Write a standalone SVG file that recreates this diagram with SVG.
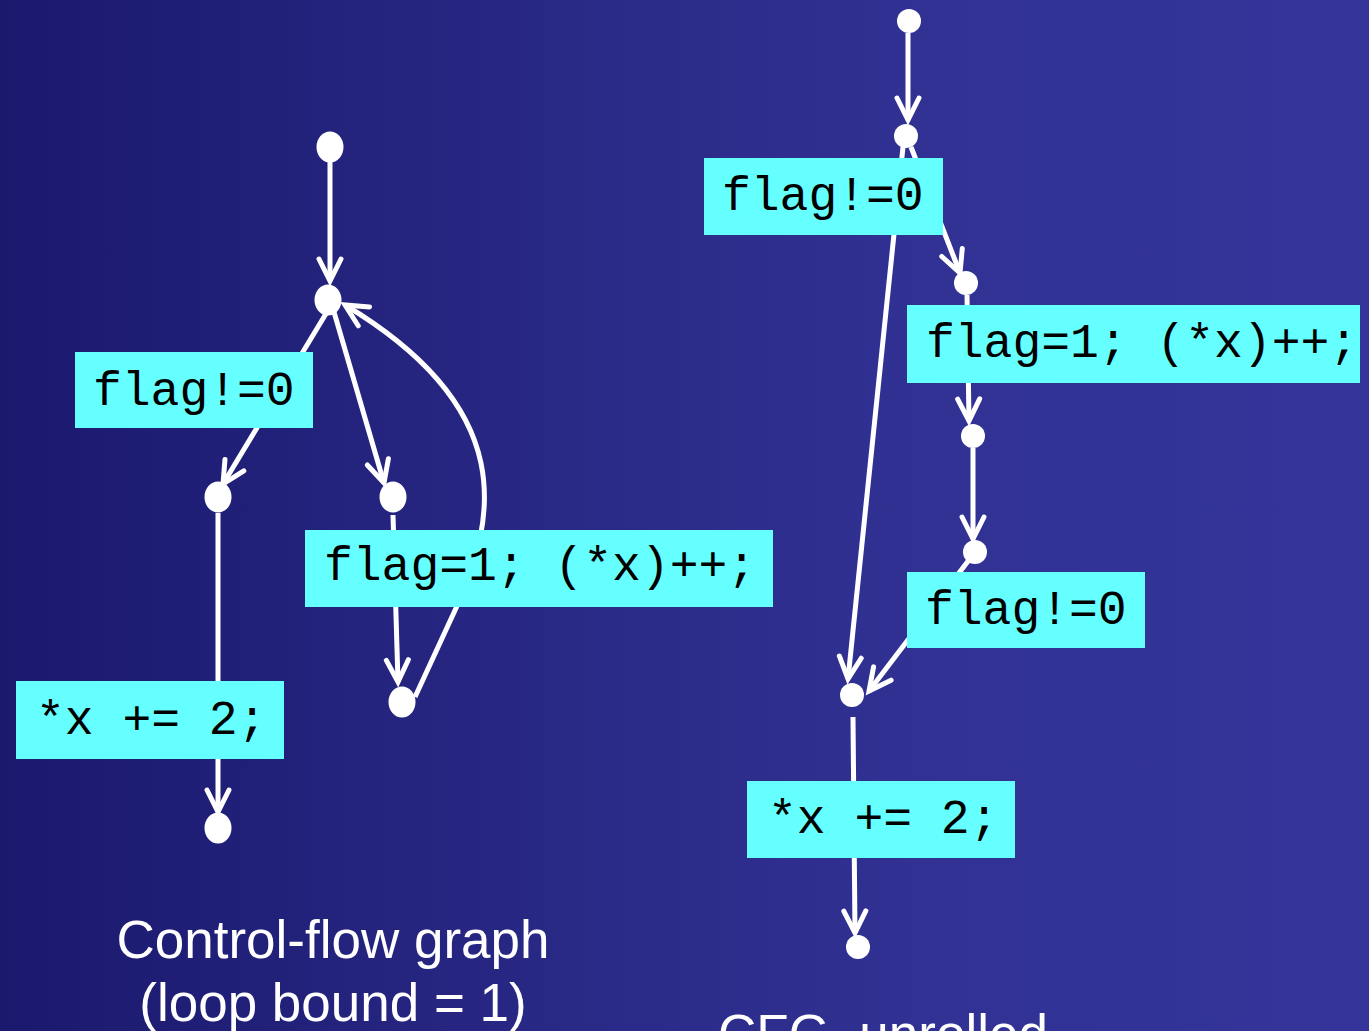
<svg xmlns="http://www.w3.org/2000/svg" width="1369" height="1031" viewBox="0 0 1369 1031">
<defs>
<linearGradient id="bg" x1="0" y1="0" x2="1369" y2="0" gradientUnits="userSpaceOnUse">
<stop offset="0" stop-color="#1b196e"/>
<stop offset="0.45" stop-color="#2a2a88"/>
<stop offset="0.7" stop-color="#313294"/>
<stop offset="1" stop-color="#34349a"/>
</linearGradient>
<marker id="arr" markerUnits="userSpaceOnUse" markerWidth="40" markerHeight="40" refX="0" refY="0" orient="auto" overflow="visible">
<path d="M -22,-11 L 0,0 L -22,11" fill="none" stroke="#ffffff" stroke-width="5" stroke-linecap="round" stroke-linejoin="miter"/>
</marker>
</defs>
<style>
.e{fill:none;stroke:#ffffff;stroke-width:5}
.a{marker-end:url(#arr)}
.n{fill:#ffffff}
.b{fill:#66ffff}
.c{font-family:"Liberation Mono","Courier New",monospace;font-size:48px;fill:#000000}
.t{font-family:"Liberation Sans",Arial,sans-serif;font-size:53px;fill:#ffffff;text-anchor:middle}
</style>
<rect x="0" y="0" width="1369" height="1031" fill="url(#bg)"/>

<g id="connectors">
<!-- left graph -->
<line class="e a" x1="330" y1="160" x2="330" y2="281"/>
<line class="e a" x1="327" y1="312" x2="223" y2="484"/>
<line class="e a" x1="334" y1="312" x2="384" y2="483"/>
<line class="e a" x1="218" y1="513" x2="218" y2="812"/>
<line class="e a" x1="393" y1="515" x2="398" y2="682"/>
<path class="e a" d="M415,697 L457,606 C495,520 520,410 345,305"/>
<!-- right graph -->
<line class="e a" x1="908" y1="33" x2="908" y2="120"/>
<line class="e a" x1="911" y1="147" x2="960" y2="273"/>
<line class="e a" x1="903" y1="147" x2="848" y2="679"/>
<line class="e a" x1="967" y1="295" x2="969" y2="421"/>
<line class="e a" x1="973" y1="448" x2="973" y2="539"/>
<line class="e a" x1="975" y1="552" x2="869" y2="691"/>
<line class="e a" x1="853" y1="717" x2="855" y2="933"/>
</g>

<g id="L_flagcond"><rect class="b" x="75" y="352" width="238" height="76"/><text class="c" x="93" y="405">flag!=0</text></g>
<g id="L_flagset"><rect class="b" x="305" y="530" width="468" height="77"/><text class="c" x="324" y="580">flag=1; (*x)++;</text></g>
<g id="L_xadd"><rect class="b" x="16" y="681" width="268" height="78"/><text class="c" x="36" y="734">*x += 2;</text></g>

<g id="R_flagcond1"><rect class="b" x="704" y="158" width="239" height="77"/><text class="c" x="722" y="210">flag!=0</text></g>
<g id="R_flagset"><rect class="b" x="907" y="305" width="453" height="78"/><text class="c" x="926" y="357">flag=1; (*x)++;</text></g>
<g id="R_flagcond2"><rect class="b" x="907" y="572" width="238" height="76"/><text class="c" x="925" y="624">flag!=0</text></g>
<g id="R_xadd"><rect class="b" x="747" y="781" width="268" height="77"/><text class="c" x="768" y="833">*x += 2;</text></g>

<g id="L_n1"><ellipse class="n" cx="330" cy="147" rx="13.5" ry="15.5"/></g>
<g id="L_n2"><ellipse class="n" cx="328" cy="300" rx="13.5" ry="15.5"/></g>
<g id="L_n3"><ellipse class="n" cx="218" cy="497" rx="13.5" ry="15.5"/></g>
<g id="L_n4"><ellipse class="n" cx="393" cy="497" rx="13.5" ry="15.5"/></g>
<g id="L_n5"><ellipse class="n" cx="402" cy="702" rx="13.5" ry="15.5"/></g>
<g id="L_n6"><ellipse class="n" cx="218" cy="828" rx="13.5" ry="15.5"/></g>

<g id="R_n1"><circle class="n" cx="909" cy="21" r="12"/></g>
<g id="R_n2"><circle class="n" cx="906" cy="136" r="12"/></g>
<g id="R_n3"><circle class="n" cx="966" cy="283" r="12"/></g>
<g id="R_n4"><circle class="n" cx="973" cy="436" r="12"/></g>
<g id="R_n5"><circle class="n" cx="975" cy="552" r="12"/></g>
<g id="R_n6"><circle class="n" cx="852" cy="695" r="12"/></g>
<g id="R_n7"><circle class="n" cx="858" cy="947" r="12"/></g>

<g id="captions">
<text class="t" x="333" y="958">Control-flow graph</text>
<text class="t" x="333" y="1021">(loop bound = 1)</text>
<text class="t" x="883" y="1052">CFG, unrolled</text>
</g>
</svg>
